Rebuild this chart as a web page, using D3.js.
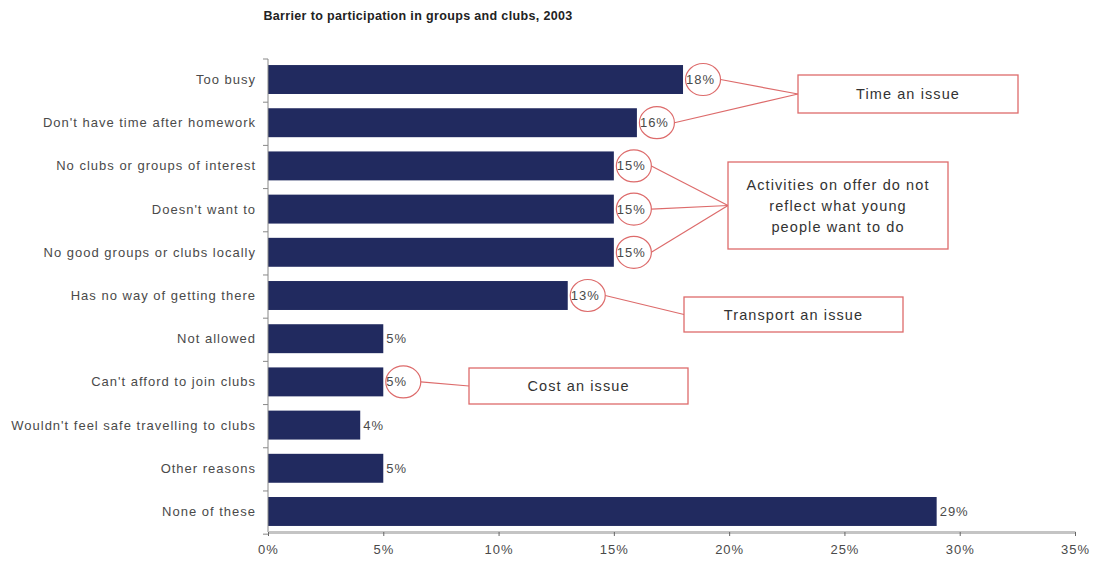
<!DOCTYPE html>
<html>
<head>
<meta charset="utf-8">
<script src="https://cdn.jsdelivr.net/npm/d3@7"></script>
<style>
  html, body { margin: 0; padding: 0; background: #fff; }
  svg { display: block; font-family: "Liberation Sans", Arial, sans-serif; }
</style>
</head>
<body>
<svg id="chart" width="1095" height="562"></svg>
<script>
// Barriers to participation, share of respondents (%)
const categories = [
  "Too busy",
  "Don't have time after homework",
  "No clubs or groups of interest",
  "Doesn't want to",
  "No good groups or clubs locally",
  "Has no way of getting there",
  "Not allowed",
  "Can't afford to join clubs",
  "Wouldn't feel safe travelling to clubs",
  "Other reasons",
  "None of these"
];
const values = [18, 16, 15, 15, 15, 13, 5, 5, 4, 5, 29];
const xTicks = [0, 5, 10, 15, 20, 25, 30, 35];
const titleText = "Barrier to participation in groups and clubs, 2003";

// Callout groups: text lines and the categories they point to
const calloutLines = [
  ["Time an issue"],
  ["Activities on offer do not", "reflect what young", "people want to do"],
  ["Transport an issue"],
  ["Cost an issue"]
];
const calloutTargets = [
  ["Too busy", "Don't have time after homework"],
  ["No clubs or groups of interest", "Doesn't want to", "No good groups or clubs locally"],
  ["Has no way of getting there"],
  ["Can't afford to join clubs"]
];
// Box geometry for each callout [x, y, width, height]
const calloutBoxes = [
  [798, 75, 220, 38],
  [728, 162, 220, 87],
  [684, 297, 219, 35],
  [469, 368, 219, 36]
];

const svg = d3.select("#chart");
const plotLeft = 268, plotRight = 1075, plotTop = 59, plotBottom = 532;

const x = d3.scaleLinear().domain([0, 35]).range([plotLeft, plotRight]);
const y = d3.scaleBand().domain(categories).range([plotTop, plotBottom])
  .paddingInner(0.33).paddingOuter(0.14);

const barColor = "#212a5f";
const calloutColor = "#dd6b6b";
const textColor = "#4a4a4a";

// Title
svg.append("text")
  .attr("x", 418).attr("y", 20)
  .attr("text-anchor", "middle")
  .attr("font-weight", "bold")
  .attr("font-size", 12.5)
  .attr("letter-spacing", 0.35)
  .attr("fill", "#222")
  .text(titleText);

// Bars
svg.append("g").selectAll("rect")
  .data(categories)
  .join("rect")
  .attr("x", x(0))
  .attr("y", d => y(d))
  .attr("width", (d, i) => x(values[i]) - x(0))
  .attr("height", y.bandwidth())
  .attr("fill", barColor);

// Category axis: thin line with ticks between bands
const gy = svg.append("g");
gy.append("line")
  .attr("x1", plotLeft).attr("x2", plotLeft)
  .attr("y1", plotTop).attr("y2", plotBottom)
  .attr("stroke", "#888").attr("stroke-width", 1);
const bounds = d3.range(categories.length + 1).map(i => plotTop + i * y.step());
gy.selectAll(".tk").data(bounds).join("line")
  .attr("class", "tk")
  .attr("x1", plotLeft - 5).attr("x2", plotLeft)
  .attr("y1", d => d).attr("y2", d => d)
  .attr("stroke", "#888");
gy.selectAll(".cat").data(categories).join("text")
  .attr("class", "cat")
  .attr("x", plotLeft - 12)
  .attr("y", d => y(d) + y.bandwidth() / 2)
  .attr("dy", "0.35em")
  .attr("text-anchor", "end")
  .attr("font-size", 13)
  .attr("letter-spacing", 1)
  .attr("fill", textColor)
  .text(d => d);

// Value axis
const gx = svg.append("g").attr("transform", `translate(0,${plotBottom})`)
  .call(d3.axisBottom(x).tickValues(xTicks).tickFormat(d => d + "%").tickSizeInner(4).tickSizeOuter(0).tickPadding(9));
gx.select(".domain").attr("stroke", "#c4c4c4").attr("stroke-width", 3);
gx.selectAll(".tick line").attr("stroke", "#666");
gx.selectAll(".tick text")
  .attr("font-size", 13)
  .attr("letter-spacing", 1)
  .attr("fill", textColor)
  .attr("font-family", "'Liberation Sans', Arial, sans-serif");

// Value labels
const labelPos = categories.map((c, i) => ({
  cat: c,
  v: values[i],
  lx: x(values[i]) + 3,
  cx: x(values[i]) + 20,
  cy: y(c) + y.bandwidth() / 2
}));
svg.append("g").selectAll("text").data(labelPos).join("text")
  .attr("x", d => d.lx)
  .attr("y", d => d.cy)
  .attr("dy", "0.35em")
  .attr("font-size", 13)
  .attr("letter-spacing", 1)
  .attr("fill", textColor)
  .text(d => d.v + "%");

// Callouts: ellipses round the labels, connector lines and boxes
const gc = svg.append("g");
calloutLines.forEach((lines, k) => {
  const [bx, by, bw, bh] = calloutBoxes[k];
  const ax = bx, ay = by + bh / 2;
  calloutTargets[k].forEach(cat => {
    const p = labelPos.find(d => d.cat === cat);
    gc.append("ellipse")
      .attr("cx", p.cx).attr("cy", p.cy)
      .attr("rx", 17.5).attr("ry", 16)
      .attr("fill", "none")
      .attr("stroke", calloutColor).attr("stroke-width", 1.2);
    gc.append("line")
      .attr("x1", p.cx + 17.5).attr("y1", p.cy)
      .attr("x2", ax).attr("y2", ay)
      .attr("stroke", calloutColor).attr("stroke-width", 1.2);
  });
  gc.append("rect")
    .attr("x", bx).attr("y", by).attr("width", bw).attr("height", bh)
    .attr("fill", "#fff")
    .attr("stroke", calloutColor).attr("stroke-width", 1.3);
  const lh = 21;
  const y0 = ay - (lines.length - 1) * lh / 2;
  lines.forEach((t, j) => {
    gc.append("text")
      .attr("x", bx + bw / 2)
      .attr("y", y0 + j * lh)
      .attr("dy", "0.35em")
      .attr("text-anchor", "middle")
      .attr("font-size", 14.5)
      .attr("letter-spacing", 1.1)
      .attr("fill", "#333")
      .text(t);
  });
});
</script>
</body>
</html>
